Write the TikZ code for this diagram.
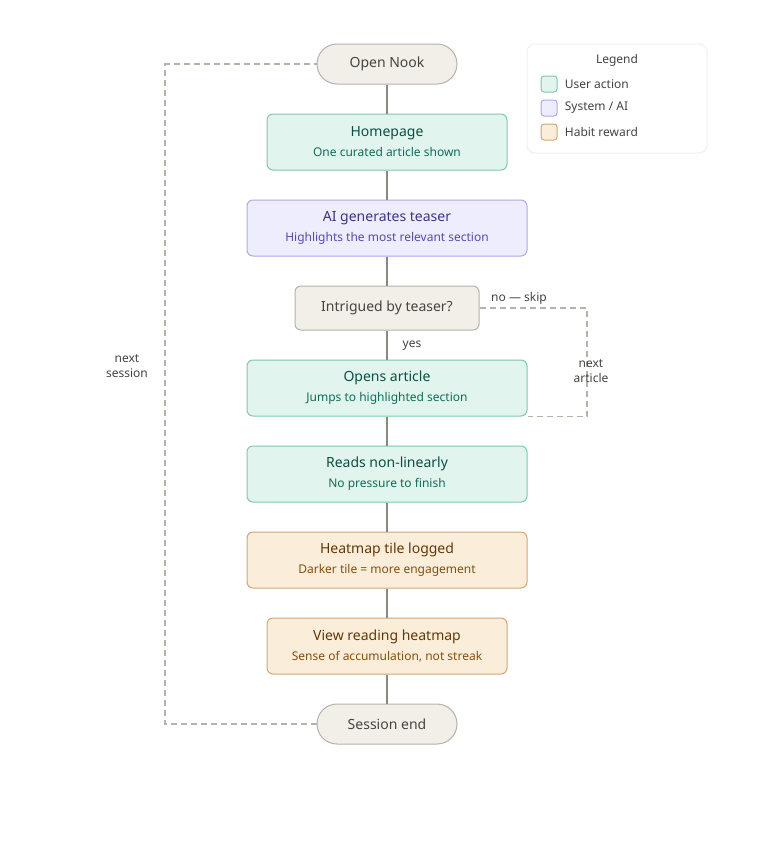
\documentclass[tikz,border=0pt]{standalone}
\usepackage{fontspec}
\setmainfont{Noto Sans}
\usetikzlibrary{positioning}

\definecolor{grnfill}{HTML}{E1F5EE}
\definecolor{grnline}{HTML}{7CCBAE}
\definecolor{grntext}{HTML}{085041}
\definecolor{grnsub}{HTML}{0F6E56}
\definecolor{purfill}{HTML}{EEEDFE}
\definecolor{purline}{HTML}{AFA9EC}
\definecolor{purtext}{HTML}{3C3489}
\definecolor{pursub}{HTML}{534AB7}
\definecolor{ambfill}{HTML}{FAEEDA}
\definecolor{ambline}{HTML}{D2A872}
\definecolor{ambtext}{HTML}{633806}
\definecolor{ambsub}{HTML}{854F0B}
\definecolor{neufill}{HTML}{F1EFE8}
\definecolor{neuline}{HTML}{B4B2A9}
\definecolor{neutext}{HTML}{444441}
\definecolor{flowline}{HTML}{888780}
\definecolor{loopline}{HTML}{B4B2A9}

\tikzset{
  box/.style={draw, rounded corners=6*0.75pt, line width=0.75pt, minimum height=56*0.75pt,
    align=center, inner sep=0pt},
  user/.style={box, fill=grnfill, draw=grnline, text=grntext},
  sys/.style={box, fill=purfill, draw=purline, text=purtext},
  habit/.style={box, fill=ambfill, draw=ambline, text=ambtext},
  term/.style={draw=neuline, fill=neufill, text=neutext, line width=0.75pt,
    rounded corners=20*0.75pt, minimum width=140*0.75pt, minimum height=40*0.75pt,
    font=\fontsize{10.5}{12}\selectfont},
  flow/.style={draw=flowline, line width=1.1pt},
  loop/.style={draw=loopline, line width=1.1pt, dash pattern=on 4.5pt off 3pt},
  lbl/.style={text=neutext, font=\fontsize{9}{11}\selectfont, align=center},
  swatch/.style={draw, rounded corners=3*0.75pt, line width=0.75pt,
    minimum width=16*0.75pt, minimum height=16*0.75pt, inner sep=0pt},
}
\newcommand{\twoline}[3]{{\fontsize{10.5}{12}\selectfont #1}\\[3pt]%
  {\fontsize{9}{10}\selectfont\color{#3}#2}}

\begin{document}
\begin{tikzpicture}[x=0.75pt, y=-0.75pt]
\useasboundingbox[fill=white] (0,0) rectangle (773,868);

%main column:
\node[term] (open) at (387,64) {Open Nook};
\node[user, minimum width=240*0.75pt] (home) at (387,142)
  {\twoline{Homepage}{One curated article shown}{grnsub}};
\node[sys, minimum width=280*0.75pt] (teaser) at (387,228)
  {\twoline{AI generates teaser}{Highlights the most relevant section}{pursub}};
\node[box, fill=neufill, draw=neuline, text=neutext, minimum width=184*0.75pt,
  minimum height=44*0.75pt, font=\fontsize{10.5}{12}\selectfont] (intrig) at (387,308)
  {Intrigued by teaser?};
\node[user, minimum width=280*0.75pt] (opens) at (387,388)
  {\twoline{Opens article}{Jumps to highlighted section}{grnsub}};
\node[user, minimum width=280*0.75pt] (reads) at (387,474)
  {\twoline{Reads non-linearly}{No pressure to finish}{grnsub}};
\node[habit, minimum width=280*0.75pt] (tile) at (387,560)
  {\twoline{Heatmap tile logged}{Darker tile = more engagement}{ambsub}};
\node[habit, minimum width=240*0.75pt] (view) at (387,646)
  {\twoline{View reading heatmap}{Sense of accumulation, not streak}{ambsub}};
\node[term] (end) at (387,724) {Session end};

%draw connectors:
\path[flow] (open) -- (home);
\path[flow] (home) -- (teaser);
\path[flow] (teaser) -- (intrig);
\path[flow] (intrig) -- (opens);
\path[flow] (opens) -- (reads);
\path[flow] (reads) -- (tile);
\path[flow] (tile) -- (view);
\path[flow] (view) -- (end);
\node[lbl, anchor=west] (yes) at (398,346) {yes};

%skip loop:
\coordinate (skipcorner) at (587,308);
\path[loop] (intrig.east) -- (skipcorner) |- (opens.south east);
\node[lbl] (skip) at (519,298) {no — skip};
\node[lbl] (nextart) at (591,371) {next\\article};

%session loop:
\coordinate (sesscorner) at (165,724);
\path[loop] (end.west) -- (sesscorner) |- (open.west);
\node[lbl] (nextsess) at (127,366) {next\\session};

%legend:
\node[draw=black!6, fill=white, rounded corners=8*0.75pt, line width=0.75pt,
  minimum width=180*0.75pt, minimum height=109*0.75pt] (legend) at (617,98.5) {};
\node[lbl] (legtitle) at (617,60) {Legend};
\node[swatch, fill=grnfill, draw=grnline] (swuser) at (549,84) {};
\node[swatch, fill=purfill, draw=purline] (swsys) at (549,108) {};
\node[swatch, fill=ambfill, draw=ambline] (swhabit) at (549,132) {};
\node[lbl, right=2pt of swuser] (leguser) {User action};
\node[lbl, right=2pt of swsys] (legsys) {System / AI};
\node[lbl, right=2pt of swhabit] (leghabit) {Habit reward};
\end{tikzpicture}
\end{document}
